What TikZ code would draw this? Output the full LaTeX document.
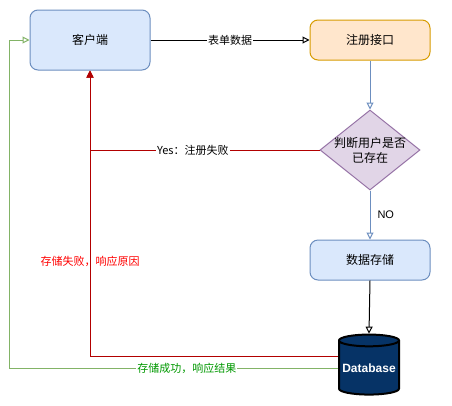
\documentclass[tikz,border=0pt]{standalone}
\usepackage{fontspec}
\setmainfont{Liberation Sans}
\newfontfamily\cjk{Noto Sans CJK SC}
\usetikzlibrary{arrows.meta,shapes.geometric}

\definecolor{blueFill}{HTML}{DAE8FC}
\definecolor{blueLine}{HTML}{6C8EBF}
\definecolor{orangeFill}{HTML}{FFE6CC}
\definecolor{orangeLine}{HTML}{D79B00}
\definecolor{purpleFill}{HTML}{E1D5E7}
\definecolor{purpleLine}{HTML}{9673A6}
\definecolor{redLine}{HTML}{B20000}
\definecolor{greenLine}{HTML}{82B366}
\definecolor{greenText}{HTML}{009900}
\definecolor{dbFill}{HTML}{063366}

\begin{document}
\begin{tikzpicture}[x=1pt, y=-1pt, line width=1pt,
        font=\fontsize{12}{15}\selectfont,
        box/.style={rectangle, rounded corners=8pt, minimum width=120pt, minimum height=40pt, font=\cjk\fontsize{12}{15}\selectfont},
        lbl/.style={font=\cjk\fontsize{11}{13}\selectfont, inner sep=1pt},
        open/.style={-{Triangle[open, length=7pt, width=7pt, fill=white]}},
        solid tip/.style={-{Triangle[length=7pt, width=7pt]}}]
    \useasboundingbox (0,0) rectangle (452,405);

    % 节点
    \node[box, fill=blueFill, draw=blueLine, minimum height=60pt] (client) at (90,40) {客户端};
    \node[box, fill=orangeFill, draw=orangeLine] (api) at (370,40) {注册接口};
    \node[diamond, fill=purpleFill, draw=purpleLine, minimum width=100pt, minimum height=80pt, inner sep=0pt,
          label={[align=center, font=\cjk\fontsize{12}{15}\selectfont]center:判断用户是否\\已存在}] (check) at (370,150) {};
    \node[box, fill=blueFill, draw=blueLine] (store) at (370,260) {数据存储};
    \node[cylinder, shape border rotate=90, aspect=0.22, minimum width=60pt, minimum height=60pt, inner sep=0pt,
          draw=black, line width=2pt, fill=dbFill, text=white, font=\bfseries\fontsize{12}{15}\selectfont] (db) at (369,368) {Database};

    % 主流程
    \draw[open] (client.east) -- (api.west) node[lbl, midway, fill=white] {表单数据};
    \draw[open, blueLine] (api.south) -- (check.north);
    \draw[open, blueLine] (check.south) -- (store.north) node[lbl, midway, right=6pt, text=black, font=\fontsize{11}{13}\selectfont] {NO};
    \draw[open] (store.south) -- (db.top);

    % 返回客户端
    \draw[solid tip, redLine] (check.west) -| (client.south)
        node[lbl, pos=0.276, fill=white, text=black] {{\fontsize{11}{13}\selectfont Yes}：注册失败};
    \draw[solid tip, redLine] ([yshift=12pt]db.west) -| (client.south)
        node[lbl, pos=0.666, text=red] {存储失败，响应原因};
    \draw[open, greenLine] (db.west) -| ([xshift=-20pt]client.west) -- (client.west);
    \path (db.west) -- ([xshift=-20pt]client.west |- db.west)
        node[lbl, pos=0.46, fill=white, text=greenText] {存储成功，响应结果};
\end{tikzpicture}
\end{document}
